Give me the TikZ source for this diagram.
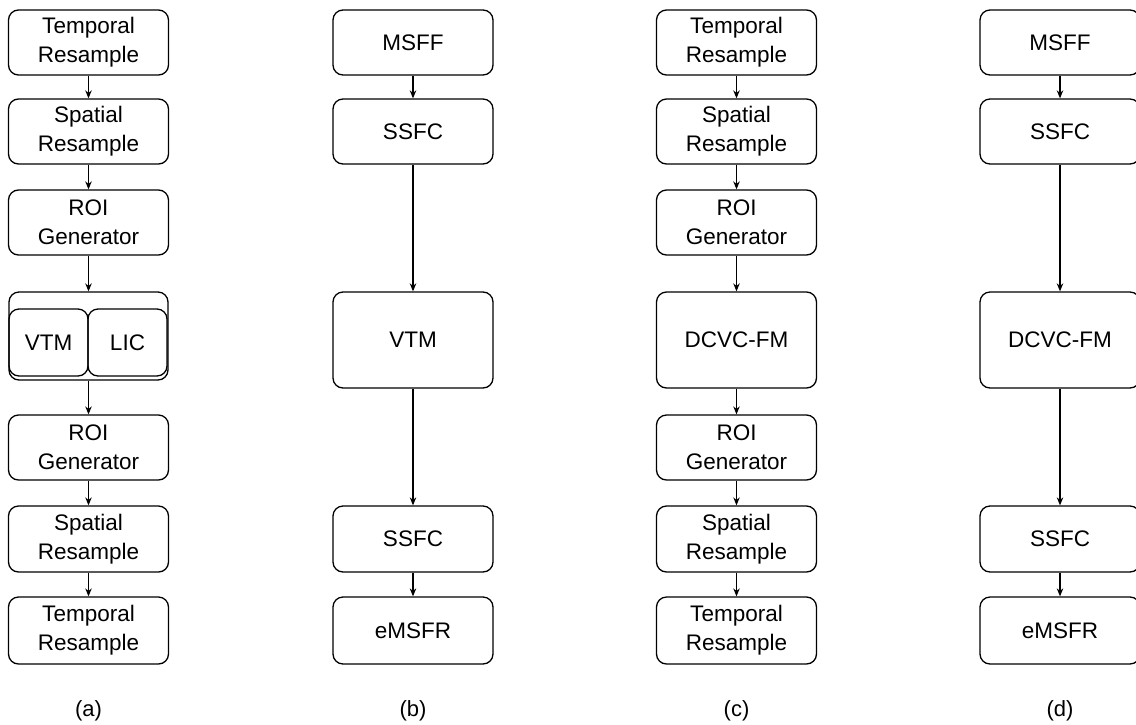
\documentclass[tikz,border=0pt]{standalone}
\usepackage{fontspec}
\setmainfont{Liberation Sans}
\usetikzlibrary{arrows.meta}
\begin{document}
\begin{tikzpicture}[x=1pt,y=-1pt,
  box/.style={draw, rounded corners=10pt, line width=1.3pt, minimum width=160pt,
    inner sep=0pt, align=center, font=\fontsize{22.5}{29}\selectfont},
  arr/.style={-{Stealth[length=8pt,width=6.5pt]}, line width=1.2pt},
  lbl/.style={font=\fontsize{22}{26}\selectfont}]
\useasboundingbox (0,0) rectangle (1136,724);
% column (a)
\node[box, minimum height=65pt] (a1) at (88.5,42.5) {Temporal\\Resample};
\node[box, minimum height=65pt] (a2) at (88.5,131.5) {Spatial\\Resample};
\node[box, minimum height=65pt] (a3) at (88.5,222.5) {ROI\\Generator};
\node[box, minimum width=159pt, minimum height=88pt] (a4) at (88.5,336) {};
\node[box, minimum width=79pt, minimum height=67pt] (a4v) at (48.5,342.5) {VTM};
\node[box, minimum width=79pt, minimum height=67pt] (a4l) at (127.5,342.5) {LIC};
\node[box, minimum height=65pt] (a5) at (88.5,447.5) {ROI\\Generator};
\node[box, minimum height=66pt] (a6) at (88.5,539) {Spatial\\Resample};
\node[box, minimum height=67pt] (a7) at (88.5,630.5) {Temporal\\Resample};
\draw[arr] (a1) -- (a2);
\draw[arr] (a2) -- (a3);
\draw[arr] (a3) -- (a4);
\draw[arr] (a4) -- (a5);
\draw[arr] (a5) -- (a6);
\draw[arr] (a6) -- (a7);
\node[lbl] (la) at (88.5,711) {(a)};
% column (b)
\node[box, minimum height=65pt] (b1) at (413,42.5) {MSFF};
\node[box, minimum height=65pt] (b2) at (413,131.5) {SSFC};
\node[box, minimum height=96pt] (b3) at (413,340) {VTM};
\node[box, minimum height=66pt] (b4) at (413,539) {SSFC};
\node[box, minimum height=67pt] (b5) at (413,630.5) {eMSFR};
\draw[arr] (b1) -- (b2);
\draw[arr] (b2) -- (b3);
\draw[arr] (b3) -- (b4);
\draw[arr] (b4) -- (b5);
\node[lbl] (lb) at (413,711) {(b)};
% column (c)
\node[box, minimum height=65pt] (c1) at (736.5,42.5) {Temporal\\Resample};
\node[box, minimum height=65pt] (c2) at (736.5,131.5) {Spatial\\Resample};
\node[box, minimum height=65pt] (c3) at (736.5,222.5) {ROI\\Generator};
\node[box, minimum height=96pt] (c4) at (736.5,340) {DCVC-FM};
\node[box, minimum height=65pt] (c5) at (736.5,447.5) {ROI\\Generator};
\node[box, minimum height=66pt] (c6) at (736.5,539) {Spatial\\Resample};
\node[box, minimum height=67pt] (c7) at (736.5,630.5) {Temporal\\Resample};
\draw[arr] (c1) -- (c2);
\draw[arr] (c2) -- (c3);
\draw[arr] (c3) -- (c4);
\draw[arr] (c4) -- (c5);
\draw[arr] (c5) -- (c6);
\draw[arr] (c6) -- (c7);
\node[lbl] (lc) at (736.5,711) {(c)};
% column (d)
\node[box, minimum height=65pt] (d1) at (1060,42.5) {MSFF};
\node[box, minimum height=65pt] (d2) at (1060,131.5) {SSFC};
\node[box, minimum height=96pt] (d3) at (1060,340) {DCVC-FM};
\node[box, minimum height=66pt] (d4) at (1060,539) {SSFC};
\node[box, minimum height=67pt] (d5) at (1060,630.5) {eMSFR};
\draw[arr] (d1) -- (d2);
\draw[arr] (d2) -- (d3);
\draw[arr] (d3) -- (d4);
\draw[arr] (d4) -- (d5);
\node[lbl] (ld) at (1060,711) {(d)};
\end{tikzpicture}
\end{document}
